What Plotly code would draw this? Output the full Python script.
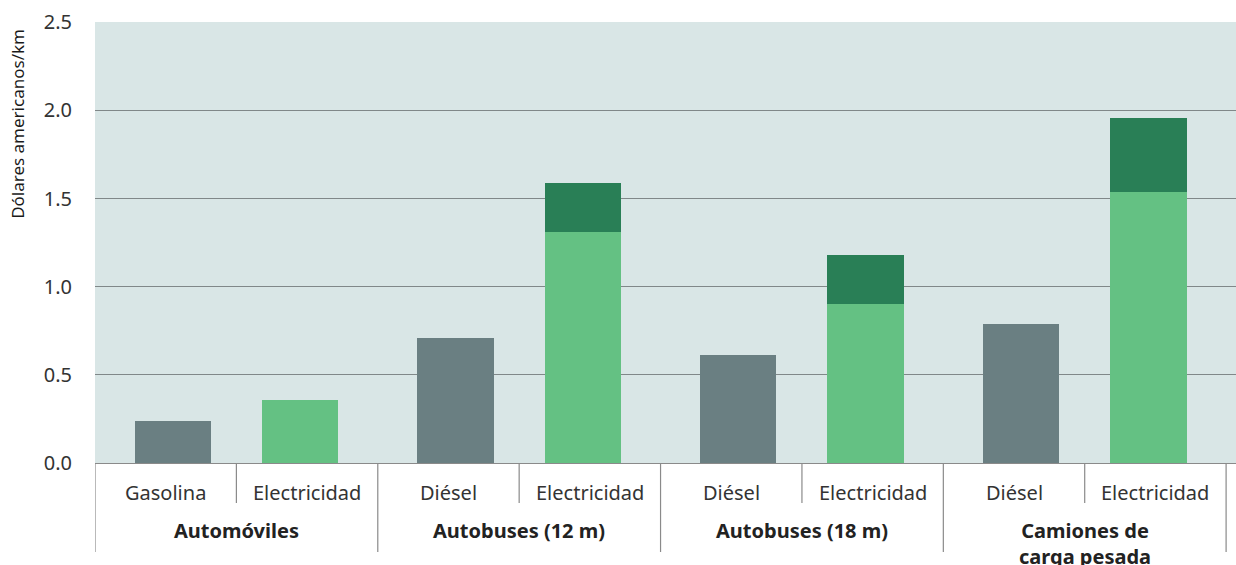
import plotly.graph_objects as go

# data (US$/km)
groups = ["Automóviles", "Autobuses (12 m)", "Autobuses (18 m)", "Camiones de<br>carga pesada"]
fossil_labels = ["Gasolina", "Diésel", "Diésel", "Diésel"]
elec_label = "Electricidad"
fossil_cost = [0.24, 0.71, 0.61, 0.79]
elec_base = [0.36, 1.31, 0.90, 1.54]
elec_extra = [0.0, 0.28, 0.28, 0.42]
y_ticks = [0.0, 0.5, 1.0, 1.5, 2.0, 2.5]

GRAY = "#6a7f82"
LIGHT_GREEN = "#64c183"
DARK_GREEN = "#297f56"
BG = "#d9e6e6"
GRID = "#808889"
SEP = "#8a8a8a"
FONT = "Noto Sans"

# each group spans 2 x-units; the two bars sit slightly inward from the slot centres
offset = 0.45
x_fossil = [2 * i + 1 - offset for i in range(len(groups))]
x_elec = [2 * i + 1 + offset for i in range(len(groups))]
bar_w = 0.54

fig = go.Figure()
fig.add_trace(go.Bar(x=x_fossil, y=fossil_cost, width=bar_w, marker_color=GRAY,
                     marker_line_width=0, showlegend=False))
fig.add_trace(go.Bar(x=x_elec, y=elec_base, width=bar_w, marker_color=LIGHT_GREEN,
                     marker_line_width=0, showlegend=False))
fig.add_trace(go.Bar(x=x_elec, y=elec_extra, width=bar_w, marker_color=DARK_GREEN,
                     marker_line_width=0, showlegend=False))

# category labels under the axis
annotations = []
for i, g in enumerate(groups):
    annotations.append(dict(x=2 * i + 0.5, y=-0.068, xref="x", yref="paper",
                            text=fossil_labels[i], showarrow=False, yanchor="middle",
                            font=dict(family=FONT, size=20, color="#333333")))
    annotations.append(dict(x=2 * i + 1.5, y=-0.068, xref="x", yref="paper",
                            text=elec_label, showarrow=False, yanchor="middle",
                            font=dict(family=FONT, size=20, color="#333333")))
    annotations.append(dict(x=2 * i + 1, y=-0.117, xref="x", yref="paper",
                            text="<b>" + g + "</b>", showarrow=False, yanchor="top",
                            font=dict(family=FONT, size=20, color="#222222")))

# y-axis title sits near the top, not centred on the axis
annotations.append(dict(x=0, y=0.769, xref="paper", yref="paper", xshift=-77,
                        text="Dólares americanos/km", textangle=-90, showarrow=False,
                        xanchor="center", yanchor="middle",
                        font=dict(family=FONT, size=17, color="#1a1a1a")))

# separators between sub-categories (short) and groups (long)
shapes = []
for k in range(len(groups) * 2 + 1):
    y1 = -0.2018 if k % 2 == 0 else -0.0907
    shapes.append(dict(type="line", xref="x", yref="paper", x0=k, x1=k, y0=0, y1=y1,
                       line=dict(color=SEP, width=1.2)))

fig.update_layout(
    barmode="stack",
    width=1236, height=565,
    margin=dict(l=95, r=0, t=22, b=102),
    plot_bgcolor=BG,
    paper_bgcolor="white",
    font=dict(family=FONT, size=20, color="#333333"),
    annotations=annotations,
    shapes=shapes,
    bargap=0,
)
fig.update_xaxes(range=[0, 8.07], showticklabels=False, showgrid=False, zeroline=False,
                 showline=True, linecolor=SEP, linewidth=1.2)
fig.update_yaxes(range=[0, 2.502], tickvals=y_ticks, tickformat=".1f",
                 showgrid=True, gridcolor=GRID, gridwidth=1.2, zeroline=False,
                 ticklabelstandoff=22,
                 tickfont=dict(family=FONT, size=20, color="#333333"))

# drop the page's default body margin so the figure sits at the window's corner
fig.write_html("out.html", config={"displayModeBar": False},
               post_script="document.body.style.margin='0';document.body.style.overflow='hidden';")
